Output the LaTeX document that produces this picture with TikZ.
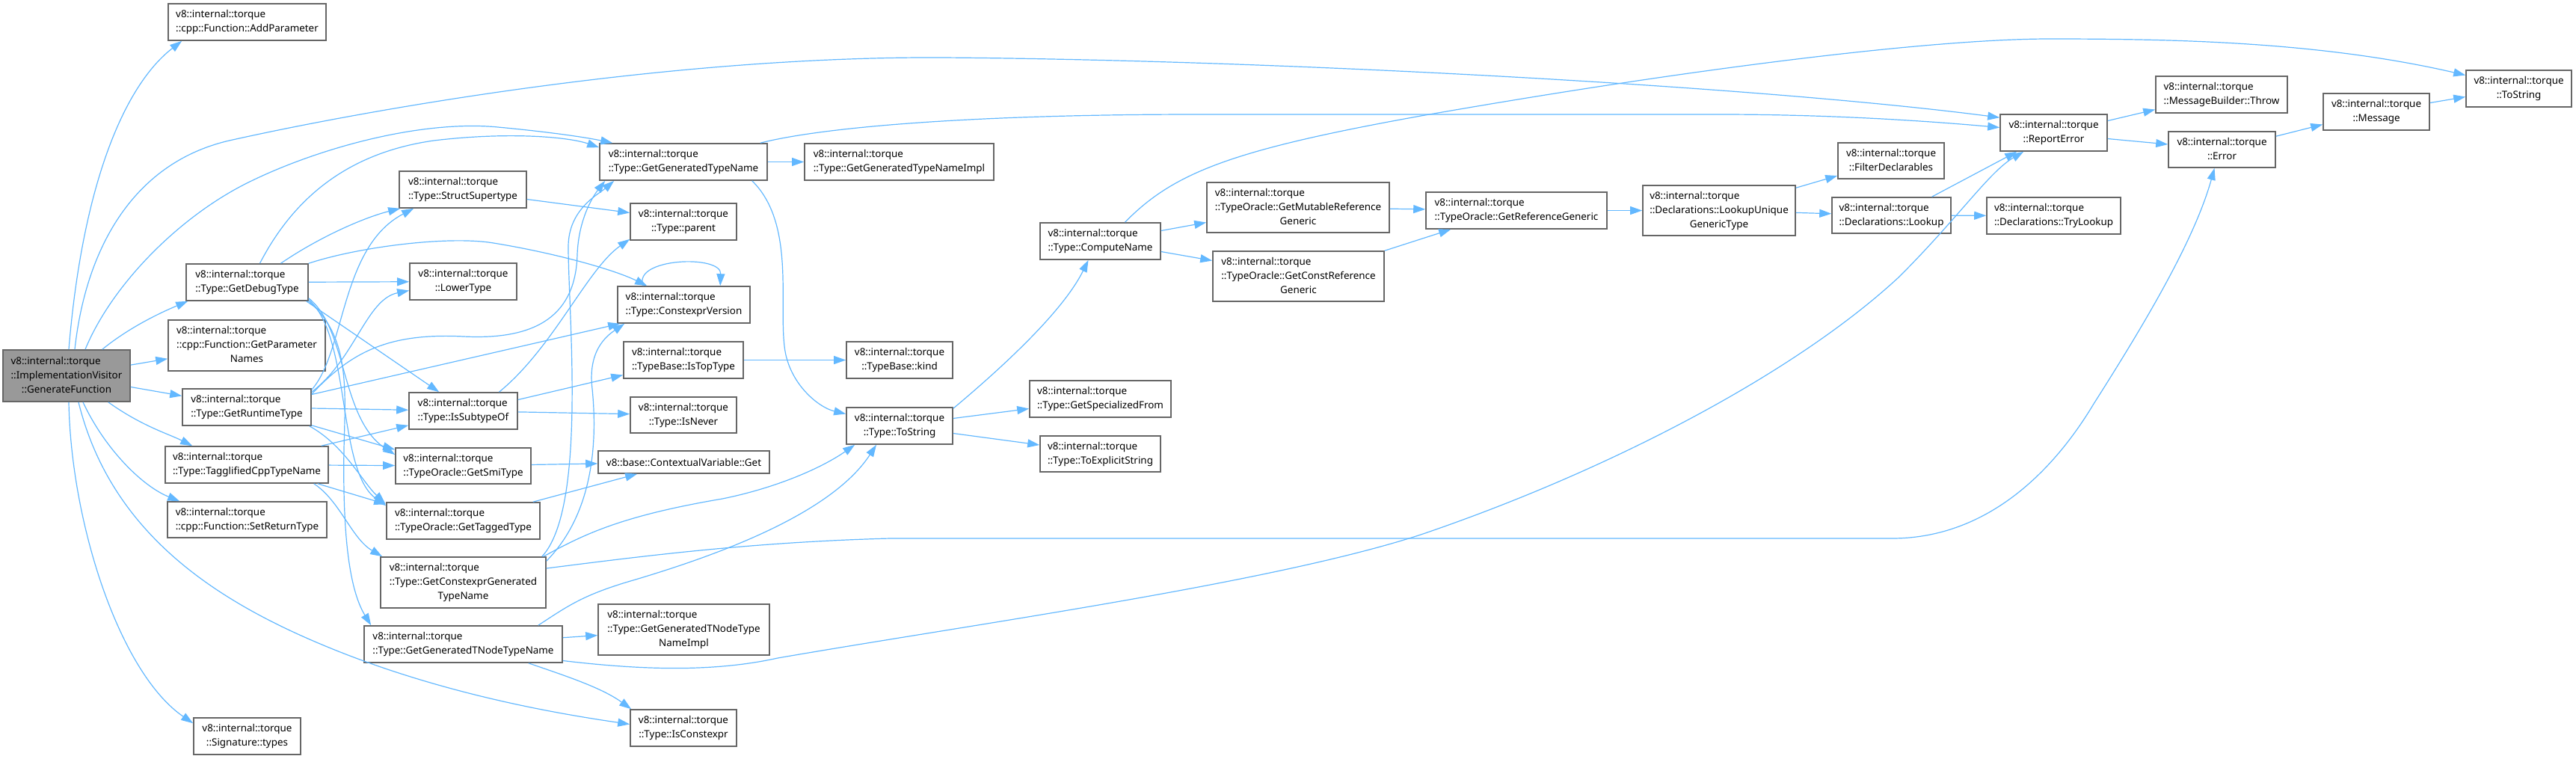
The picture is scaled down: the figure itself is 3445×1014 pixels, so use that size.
\documentclass[tikz,border=0pt]{standalone}
\usepackage{fontspec}
\setmainfont{Noto Sans}
\usetikzlibrary{arrows.meta,calc}
\definecolor{edgec}{HTML}{63B8FF}
\definecolor{bord}{HTML}{666666}
\definecolor{gfill}{HTML}{999999}
\newcommand\Ltwo[2]{\begin{tabular}{@{}l@{}}#1\\#2\end{tabular}}
\newcommand\Ctwo[2]{\begin{tabular}{@{}c@{}}#1\\#2\end{tabular}}
\newcommand\Lthree[3]{\begin{tabular}{@{}l@{}}#1\\#2\\\multicolumn{1}{@{}c@{}}{#3}\end{tabular}}
\newcommand\bx[7][box]{\node[#1, minimum width={(#5-#3)*0.5pt}, minimum height={(#6-#4)*0.5pt}] (#2) at ({(#3+#5)/2},{(#4+#6)/2}) {#7};}
\tikzset{
  box/.style={rectangle, draw=bord, line width=0.8pt, fill=white, inner sep=0pt,
    font=\fontsize{6.7}{9.5}\selectfont},
  gfbox/.style={box, fill=gfill},
  edge/.style={draw=edgec, line width=0.6pt, -{Triangle[length=8pt,width=5.5pt]}}
}
\begin{document}
\begin{tikzpicture}[x=0.5pt,y=-0.5pt]
\useasboundingbox (0,0) rectangle (3445,1014);
% nodes
\bx[gfbox]{gf}{4}{468}{174}{537}{\Lthree{v8::internal::torque}{::ImplementationVisitor}{::GenerateFunction}}
\bx{addp}{225}{5}{436}{54}{\Ltwo{v8::internal::torque}{::cpp::Function::AddParameter}}
\bx{gdt}{249}{353}{412}{402}{\Ltwo{v8::internal::torque}{::Type::GetDebugType}}
\bx{gpn}{225}{428}{435}{496}{\Lthree{v8::internal::torque}{::cpp::Function::GetParameter}{Names}}
\bx{grt}{244}{520}{416}{569}{\Ltwo{v8::internal::torque}{::Type::GetRuntimeType}}
\bx{tct}{221}{597}{439}{646}{\Ltwo{v8::internal::torque}{::Type::TagglifiedCppTypeName}}
\bx{srt}{224}{671}{437}{719}{\Ltwo{v8::internal::torque}{::cpp::Function::SetReturnType}}
\bx{sig}{259}{960}{402}{1009}{\Ctwo{v8::internal::torque}{::Signature::types}}
\bx{sst}{534}{229}{704}{278}{\Ltwo{v8::internal::torque}{::Type::StructSupertype}}
\bx{lowt}{548}{352}{691}{401}{\Ctwo{v8::internal::torque}{::LowerType}}
\bx{iso}{547}{525}{692}{574}{\Ltwo{v8::internal::torque}{::Type::IsSubtypeOf}}
\bx{smi}{529}{599}{710}{647}{\Ltwo{v8::internal::torque}{::TypeOracle::GetSmiType}}
\bx{tag}{517}{672}{722}{721}{\Ltwo{v8::internal::torque}{::TypeOracle::GetTaggedType}}
\bx{gcg}{509}{745}{730}{813}{\Lthree{v8::internal::torque}{::Type::GetConstexprGenerated}{TypeName}}
\bx{gtn}{487}{837}{752}{886}{\Ltwo{v8::internal::torque}{::Type::GetGeneratedTNodeTypeName}}
\bx{ggt}{802}{192}{1026}{241}{\Ltwo{v8::internal::torque}{::Type::GetGeneratedTypeName}}
\bx{par}{843}{272}{985}{321}{\Ctwo{v8::internal::torque}{::Type::parent}}
\bx{cv}{826}{383}{1003}{432}{\Ltwo{v8::internal::torque}{::Type::ConstexprVersion}}
\bx{itt}{834}{457}{994}{506}{\Ltwo{v8::internal::torque}{::TypeBase::IsTopType}}
\bx{inev}{843}{531}{985}{579}{\Ctwo{v8::internal::torque}{::Type::IsNever}}
\bx{ctx}{800}{603}{1029}{633}{v8::base::ContextualVariable::Get}
\bx{gtni}{800}{808}{1029}{876}{\Lthree{v8::internal::torque}{::Type::GetGeneratedTNodeType}{NameImpl}}
\bx{icx}{843}{949}{985}{998}{\Ctwo{v8::internal::torque}{::Type::IsConstexpr}}
\bx{ggti}{1076}{192}{1329}{241}{\Ltwo{v8::internal::torque}{::Type::GetGeneratedTypeNameImpl}}
\bx{kind}{1132}{457}{1274}{506}{\Ctwo{v8::internal::torque}{::TypeBase::kind}}
\bx{tts}{1132}{545}{1274}{594}{\Ctwo{v8::internal::torque}{::Type::ToString}}
\bx{cmp}{1391}{298}{1552}{347}{\Ltwo{v8::internal::torque}{::Type::ComputeName}}
\bx{gsf}{1377}{509}{1566}{558}{\Ltwo{v8::internal::torque}{::Type::GetSpecializedFrom}}
\bx{tes}{1391}{583}{1552}{631}{\Ltwo{v8::internal::torque}{::Type::ToExplicitString}}
\bx{gmr}{1614}{244}{1858}{311}{\Lthree{v8::internal::torque}{::TypeOracle::GetMutableReference}{Generic}}
\bx{gcr}{1622}{336}{1851}{403}{\Lthree{v8::internal::torque}{::TypeOracle::GetConstReference}{Generic}}
\bx{grg}{1907}{257}{2149}{306}{\Ltwo{v8::internal::torque}{::TypeOracle::GetReferenceGeneric}}
\bx{lug}{2197}{248}{2401}{315}{\Lthree{v8::internal::torque}{::Declarations::LookupUnique}{GenericType}}
\bx{fdc}{2458}{191}{2600}{239}{\Ctwo{v8::internal::torque}{::FilterDeclarables}}
\bx{lkp}{2450}{264}{2609}{312}{\Ltwo{v8::internal::torque}{::Declarations::Lookup}}
\bx{tlk}{2657}{264}{2836}{313}{\Ltwo{v8::internal::torque}{::Declarations::TryLookup}}
\bx{rpe}{2675}{153}{2818}{202}{\Ctwo{v8::internal::torque}{::ReportError}}
\bx{thr}{2883}{102}{3059}{151}{\Ltwo{v8::internal::torque}{::MessageBuilder::Throw}}
\bx{err}{2900}{176}{3043}{224}{\Ctwo{v8::internal::torque}{::Error}}
\bx{msg}{3107}{125}{3249}{174}{\Ctwo{v8::internal::torque}{::Message}}
\bx{tst}{3298}{94}{3439}{143}{\Ctwo{v8::internal::torque}{::ToString}}
% edges from GenerateFunction
\draw[edge] ($(gf.north)+(3,0)$) .. controls (110,250) and (165,115) .. ($(addp.south west)+(19,0)$);
\draw[edge] ($(gf.north)+(11,0)$) .. controls (115,330) and (180,215) .. (311,187) .. controls (500,145) and (900,75) .. (1260,77) .. controls (1700,80) and (2350,115) .. ($(rpe.north west)+(0,5)$);
\draw[edge] ($(gf.north)+(25,0)$) .. controls (150,380) and (240,290) .. (330,245) .. controls (420,200) and (560,160) .. (666,170) .. controls (730,176) and (780,183) .. ($(ggt.north west)+(18,0)$);
\draw[edge] ($(gf.north east)+(-38,0)$) .. controls (170,440) and (210,420) .. ($(gdt.south west)+(3,0)$);
\draw[edge] (gf) -- (gpn);
\draw[edge] (gf) -- (grt);
\draw[edge] ($(gf.south east)+(-30,0)$) .. controls (190,570) and (225,580) .. ($(tct.north west)+(37,0)$);
\draw[edge] ($(gf.south)+(22,0)$) .. controls (140,600) and (190,650) .. ($(srt.north west)+(17,0)$);
\draw[edge] ($(gf.south)+(3,0)$) .. controls (95,700) and (160,900) .. ($(sig.north west)+(0,8)$);
\draw[edge] ($(gf.south)+(16,0)$) .. controls (150,720) and (300,810) .. (450,870) .. controls (600,930) and (750,955) .. ($(icx.west)+(0,-5)$);
% GetDebugType
\draw[edge] ($(gdt.north)+(17,0)$) .. controls (390,270) and (460,205) .. (580,188) .. controls (680,176) and (760,183) .. ($(ggt.north west)+(0,6)$);
\draw[edge] ($(gdt.north)+(45,0)$) .. controls (430,315) and (490,290) .. ($(sst.south west)+(2,0)$);
\draw[edge] (gdt) -- (lowt);
\draw[edge] (gdt.north east) .. controls (480,330) and (600,315) .. (660,325) .. controls (740,338) and (820,360) .. ($(cv.north west)+(40,0)$);
\draw[edge] ($(gdt.south east)+(-3,0)$) -- ($(iso.north west)+(41,0)$);
\draw[edge] ($(gdt.south east)+(0,-4)$) .. controls (465,440) and (455,560) .. ($(smi.west)+(0,-15)$);
\draw[edge] ($(gdt.south east)+(0,-2)$) .. controls (470,450) and (450,630) .. ($(tag.north west)+(0,5)$);
\draw[edge] (gdt.south east) .. controls (468,450) and (462,520) .. (460,600) .. controls (458,720) and (468,790) .. ($(gtn.north west)+(10,0)$);
% GetRuntimeType
\draw[edge] ($(grt.north east)+(0,2)$) .. controls (462,470) and (455,330) .. ($(sst.south west)+(20,0)$);
\draw[edge] ($(grt.north east)+(0,5)$) .. controls (475,480) and (490,400) .. ($(lowt.west)+(0,12)$);
\draw[edge] ($(grt.east)+(0,-17)$) -- ($(cv.south west)+(4,0)$);
\draw[edge] (grt) -- (iso);
\draw[edge] ($(grt.south east)+(0,-1)$) -- ($(smi.north west)+(0,3)$);
\draw[edge] ($(grt.south east)+(-3,0)$) .. controls (460,595) and (485,645) .. ($(tag.north west)+(-1,2)$);
\draw[edge] ($(grt.north east)+(0,8)$) .. controls (470,470) and (520,445) .. (620,450) .. controls (720,455) and (770,420) .. (772,340) .. controls (774,290) and (795,260) .. ($(ggt.south west)+(8,0)$);
% TagglifiedCppTypeName
\draw[edge] ($(tct.north east)+(-10,0)$) -- ($(iso.south west)+(0,-6)$);
\draw[edge] (tct) -- (smi);
\draw[edge] ($(tct.south east)+(-15,0)$) -- ($(tag.north west)+(0,3)$);
\draw[edge] ($(tct.south east)+(-20,0)$) .. controls (455,670) and (470,720) .. ($(gcg.north west)+(3,0)$);
% second column
\draw[edge] ($(sst.east)+(0,13)$) -- ($(par.west)+(0,-12)$);
\draw[edge] ($(iso.north)+(48,0)$) .. controls (740,465) and (785,360) .. ($(par.south west)+(0,-2)$);
\draw[edge] ($(iso.east)+(0,-15)$) -- ($(itt.west)+(0,20)$);
\draw[edge] (iso) -- (inev);
\draw[edge] (smi) -- (ctx);
\draw[edge] ($(tag.north east)+(-10,0)$) -- ($(ctx.south west)+(53,0)$);
\draw[edge] ($(gcg.north east)+(0,6)$) .. controls (790,690) and (800,600) .. (792,520) .. controls (786,470) and (810,450) .. ($(cv.south west)+(10,0)$);
\draw[edge] ($(gcg.north east)+(-6,0)$) .. controls (785,680) and (760,420) .. (760,330) .. controls (760,280) and (800,260) .. ($(ggt.south west)+(20,0)$);
\draw[edge] ($(gcg.north east)+(-4,0)$) .. controls (780,715) and (830,690) .. (966,667) .. controls (1040,652) and (1100,625) .. ($(tts.south west)+(12,0)$);
\draw[edge] ($(gcg.east)+(0,-19)$) .. controls (850,745) and (1000,725) .. (1190,720) -- (2530,720) .. controls (2650,720) and (2740,640) .. (2800,540) .. controls (2870,430) and (2935,320) .. ($(err.south)+(-10,0)$);
\draw[edge] (gtn) -- (gtni);
\draw[edge] ($(gtn.south east)+(-46,0)$) .. controls (760,905) and (805,920) .. ($(icx.north west)+(2,0)$);
\draw[edge] ($(gtn.north east)+(-33,0)$) .. controls (760,810) and (780,795) .. (850,775) .. controls (950,745) and (1110,690) .. ($(tts.south)+(-31,0)$);
\draw[edge] ($(gtn.east)+(0,22)$) .. controls (850,895) and (950,900) .. (1040,880) .. controls (1300,835) and (1700,780) .. (1900,715) .. controls (2150,630) and (2400,500) .. (2540,370) .. controls (2620,290) and (2660,230) .. ($(rpe.south west)+(32,0)$);
% GetGeneratedTypeName
\draw[edge] (ggt) -- (ggti);
\draw[edge] ($(ggt.north east)+(-10,0)$) .. controls (1100,170) and (1300,153) .. (1600,153) -- (2300,153) .. controls (2450,153) and (2580,162) .. ($(rpe.west)+(0,-7)$);
\draw[edge] ($(ggt.south east)+(-21,0)$) .. controls (1065,300) and (1040,410) .. (1050,470) .. controls (1058,515) and (1095,545) .. ($(tts.west)+(0,-16)$);
\draw[edge] ($(cv.north west)+(35,0)$) .. controls (845,345) and (965,340) .. ($(cv.north west)+(138,0)$);
\draw[edge] (itt) -- (kind);
% ToString and beyond
\draw[edge] ($(tts.north east)+(0,2)$) .. controls (1330,500) and (1420,420) .. ($(cmp.south)+(-16,0)$);
\draw[edge] ($(tts.east)+(0,-10)$) -- ($(gsf.west)+(0,13)$);
\draw[edge] ($(tts.east)+(0,10)$) -- ($(tes.west)+(0,-12)$);
\draw[edge] ($(cmp.east)+(0,-14)$) -- ($(gmr.west)+(0,20)$);
\draw[edge] ($(cmp.east)+(0,14)$) -- ($(gcr.west)+(0,-21)$);
\draw[edge] ($(cmp.north)+(33,0)$) .. controls (1570,230) and (1650,200) .. (1900,155) .. controls (2300,85) and (2600,52) .. (2740,52) .. controls (2900,52) and (3100,55) .. ($(tst.west)+(0,-18)$);
\draw[edge] (gmr) -- (grg);
\draw[edge] (gcr.north east) -- ($(grg.south west)+(34,0)$);
\draw[edge] (grg) -- (lug);
\draw[edge] ($(lug.north east)+(0,4)$) -- ($(fdc.west)+(0,20)$);
\draw[edge] (lug) -- (lkp);
\draw[edge] ($(lkp.north)+(54,0)$) -- ($(rpe.south west)+(23,0)$);
\draw[edge] (lkp) -- (tlk);
\draw[edge] ($(rpe.east)+(0,-16)$) -- ($(thr.west)+(0,20)$);
\draw[edge] ($(rpe.east)+(0,8)$) -- ($(err.west)+(0,-7)$);
\draw[edge] ($(err.north east)+(0,7)$) -- ($(msg.west)+(0,17)$);
\draw[edge] ($(msg.east)+(0,-12)$) -- ($(tst.west)+(0,11)$);
\end{tikzpicture}
\end{document}
